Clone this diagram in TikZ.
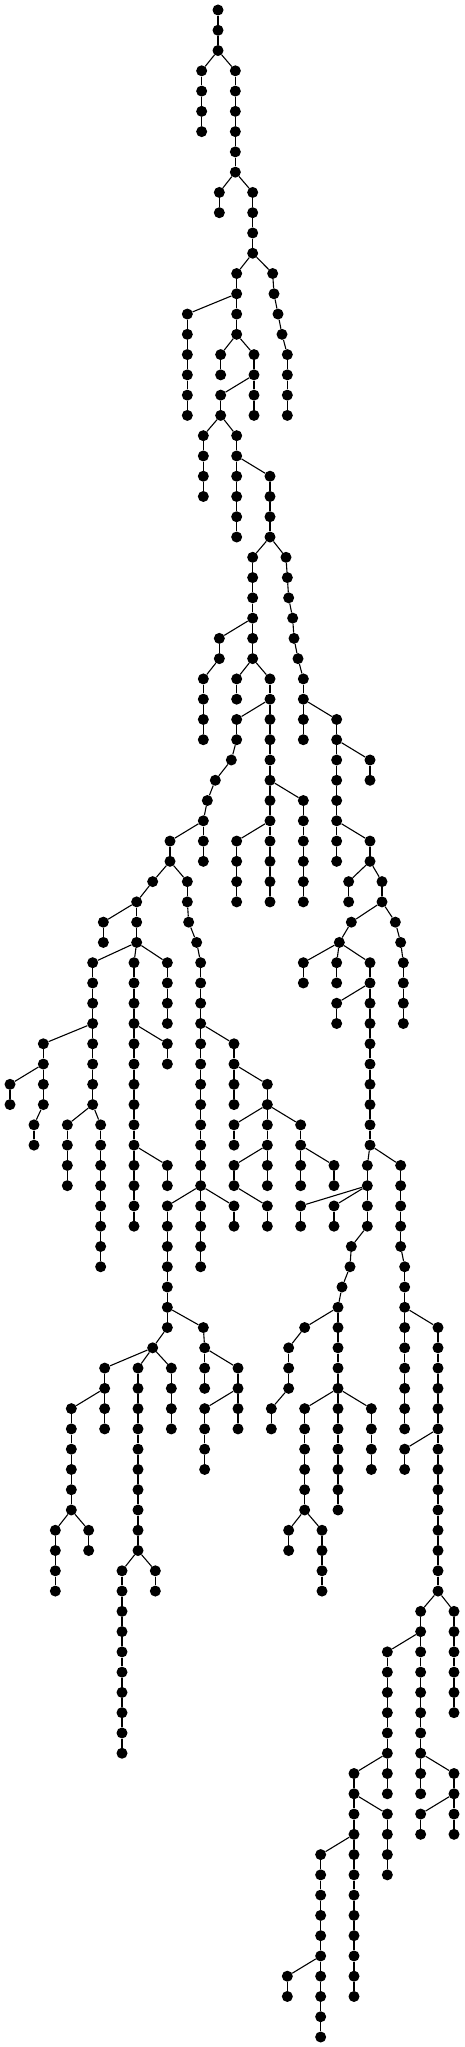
\documentclass[tikz,border=0pt]{standalone}
\begin{document}
\begin{tikzpicture}[x=1pt,y=1pt,
  dot/.style={circle,fill=black,draw=none,inner sep=0pt,minimum size=11pt},
  edge/.style={line width=1.1pt,black}]
\useasboundingbox (0,0) rectangle (464,-2047);
\node[dot] (n0-654) at ({654/3},-10) {};
\foreach \r/\x/\p in {
1/654/654, 2/654/654,
3/605/654, 3/706/654,
4/605/605, 4/706/706, 5/605/605, 5/706/706, 6/605/605, 6/706/706,
7/706/706, 8/706/706,
9/658/706, 9/758/706,
10/658/658, 10/758/758, 11/758/758, 12/758/758,
13/710/758, 13/818/758,
14/710/710, 14/822/818,
15/562/710, 15/710/710, 15/834/822,
16/562/562, 16/710/710, 16/846/834,
17/562/562, 17/662/710, 17/762/710, 17/862/846,
18/562/562, 18/662/662, 18/762/762, 18/862/862,
19/562/562, 19/662/762, 19/762/762, 19/862/862,
20/562/562, 20/662/662, 20/762/762, 20/862/862,
21/610/662, 21/710/662,
22/610/610, 22/710/710,
23/610/610, 23/710/710, 23/810/710,
24/610/610, 24/710/710, 24/810/810,
25/710/710, 25/810/810,
26/710/710, 26/810/810,
27/758/810, 27/858/810,
28/758/758, 28/862/858,
29/758/758, 29/866/862,
30/758/758, 30/878/866,
31/658/758, 31/758/758, 31/882/878,
32/658/658, 32/758/758, 32/894/882,
33/610/658, 33/710/758, 33/810/758, 33/910/894,
34/610/610, 34/710/710, 34/810/810, 34/910/910,
35/610/610, 35/710/810, 35/810/810, 35/910/910, 35/1010/910,
36/610/610, 36/710/710, 36/810/810, 36/910/910, 36/1010/1010,
37/694/710, 37/810/810, 37/1010/1010, 37/1110/1010,
38/646/694, 38/810/810, 38/1010/1010, 38/1110/1110,
39/622/646, 39/810/810, 39/910/810, 39/1010/1010,
40/610/622, 40/810/810, 40/910/910, 40/1010/1010,
41/510/610, 41/610/610, 41/710/810, 41/810/810, 41/910/910, 41/1010/1010, 41/1110/1010,
42/510/510, 42/610/610, 42/710/710, 42/810/810, 42/910/910, 42/1010/1010, 42/1110/1110,
43/458/510, 43/562/510, 43/710/710, 43/810/810, 43/910/910, 43/1046/1110, 43/1146/1110,
44/410/458, 44/562/562, 44/710/710, 44/810/810, 44/910/910, 44/1046/1046, 44/1146/1146,
45/310/410, 45/410/410, 45/566/562, 45/1054/1146, 45/1186/1146,
46/310/310, 46/410/410, 46/590/566, 46/1018/1054, 46/1202/1186,
47/278/410, 47/402/410, 47/502/410, 47/602/590, 47/910/1018, 47/1010/1018, 47/1110/1018, 47/1210/1202,
48/278/278, 48/402/402, 48/502/502, 48/602/602, 48/910/910, 48/1010/1010, 48/1110/1110, 48/1210/1210,
49/278/278, 49/402/402, 49/502/502, 49/602/602, 49/1010/1110, 49/1110/1110, 49/1210/1210,
50/278/278, 50/402/402, 50/502/502, 50/602/602, 50/1010/1010, 50/1110/1110, 50/1210/1210,
51/130/278, 51/278/278, 51/402/402, 51/502/402, 51/602/602, 51/702/602, 51/1110/1110,
52/130/130, 52/278/278, 52/402/402, 52/502/502, 52/602/602, 52/702/702, 52/1110/1110,
53/30/130, 53/130/130, 53/278/278, 53/402/402, 53/602/602, 53/702/702, 53/802/702, 53/1110/1110,
54/30/30, 54/130/130, 54/278/278, 54/402/402, 54/602/602, 54/702/702, 54/802/802, 54/1110/1110,
55/102/130, 55/202/278, 55/302/278, 55/402/402, 55/602/602, 55/702/802, 55/802/802, 55/902/802, 55/1110/1110,
56/102/102, 56/202/202, 56/302/302, 56/402/402, 56/602/602, 56/702/702, 56/802/802, 56/902/902, 56/1110/1110,
57/202/202, 57/302/302, 57/402/402, 57/502/402, 57/602/602, 57/702/802, 57/802/802, 57/902/902, 57/1002/902, 57/1102/1110, 57/1202/1110,
58/202/202, 58/302/302, 58/402/402, 58/502/502, 58/602/602, 58/702/702, 58/802/802, 58/902/902, 58/1002/1002, 58/1102/1102, 58/1202/1202,
59/302/302, 59/402/402, 59/502/602, 59/602/602, 59/702/602, 59/802/702, 59/902/1102, 59/1002/1102, 59/1102/1102, 59/1202/1202,
60/302/302, 60/402/402, 60/502/502, 60/602/602, 60/702/702, 60/802/802, 60/902/902, 60/1002/1002, 60/1102/1102, 60/1202/1202,
61/302/302, 61/502/502, 61/602/602, 61/1054/1102, 61/1202/1202,
62/302/302, 62/502/502, 62/602/602, 62/1050/1054, 62/1214/1202,
63/502/502, 63/1026/1050, 63/1214/1214,
64/502/502, 64/1014/1026, 64/1214/1214,
65/502/502, 65/610/502, 65/914/1014, 65/1014/1014, 65/1214/1214, 65/1314/1214,
66/458/502, 66/614/610, 66/866/914, 66/1014/1014, 66/1214/1214, 66/1314/1314,
67/314/458, 67/414/458, 67/514/458, 67/614/614, 67/714/614, 67/866/866, 67/1014/1014, 67/1214/1214, 67/1314/1314,
68/314/314, 68/414/414, 68/514/514, 68/614/614, 68/714/714, 68/866/866, 68/1014/1014, 68/1214/1214, 68/1314/1314,
69/214/314, 69/314/314, 69/414/414, 69/514/514, 69/614/714, 69/714/714, 69/814/866, 69/914/1014, 69/1014/1014, 69/1114/1014, 69/1214/1214, 69/1314/1314,
70/214/214, 70/314/314, 70/414/414, 70/514/514, 70/614/614, 70/714/714, 70/814/814, 70/914/914, 70/1014/1014, 70/1114/1114, 70/1214/1214, 70/1314/1314,
71/214/214, 71/414/414, 71/614/614, 71/914/914, 71/1014/1014, 71/1114/1114, 71/1214/1314, 71/1314/1314,
72/214/214, 72/414/414, 72/614/614, 72/914/914, 72/1014/1014, 72/1114/1114, 72/1214/1214, 72/1314/1314,
73/214/214, 73/414/414, 73/914/914, 73/1014/1014, 73/1314/1314,
74/214/214, 74/414/414, 74/914/914, 74/1014/1014, 74/1314/1314,
75/166/214, 75/266/214, 75/414/414, 75/866/914, 75/966/914, 75/1314/1314,
76/166/166, 76/266/266, 76/414/414, 76/866/866, 76/966/966, 76/1314/1314,
77/166/166, 77/366/414, 77/466/414, 77/966/966, 77/1314/1314,
78/166/166, 78/366/366, 78/466/466, 78/966/966, 78/1314/1314,
79/366/366, 79/1262/1314, 79/1362/1314,
80/366/366, 80/1262/1262, 80/1362/1362,
81/366/366, 81/1162/1262, 81/1262/1262, 81/1362/1362,
82/366/366, 82/1162/1162, 82/1262/1262, 82/1362/1362,
83/366/366, 83/1162/1162, 83/1262/1262, 83/1362/1362,
84/366/366, 84/1162/1162, 84/1262/1262, 84/1362/1362,
85/366/366, 85/1162/1162, 85/1262/1262,
86/366/366, 86/1162/1162, 86/1262/1262,
87/1062/1162, 87/1162/1162, 87/1262/1262, 87/1362/1262,
88/1062/1062, 88/1162/1162, 88/1262/1262, 88/1362/1362,
89/1062/1062, 89/1162/1062, 89/1262/1362, 89/1362/1362,
90/1062/1062, 90/1162/1162, 90/1262/1262, 90/1362/1362,
91/962/1062, 91/1062/1062, 91/1162/1162,
92/962/962, 92/1062/1062, 92/1162/1162,
93/962/962, 93/1062/1062,
94/962/962, 94/1062/1062,
95/962/962, 95/1062/1062,
96/962/962, 96/1062/1062,
97/862/962, 97/962/962, 97/1062/1062,
98/862/862, 98/962/962, 98/1062/1062,
99/962/962, 100/962/962}
{
  \pgfmathtruncatemacro\pr{\r-1}
  \node[dot] (n\r-\x) at ({\x/3},{-10-20.27*\r}) {};
  \draw[edge] (n\pr-\p) -- (n\r-\x);
}
\end{tikzpicture}
\end{document}
